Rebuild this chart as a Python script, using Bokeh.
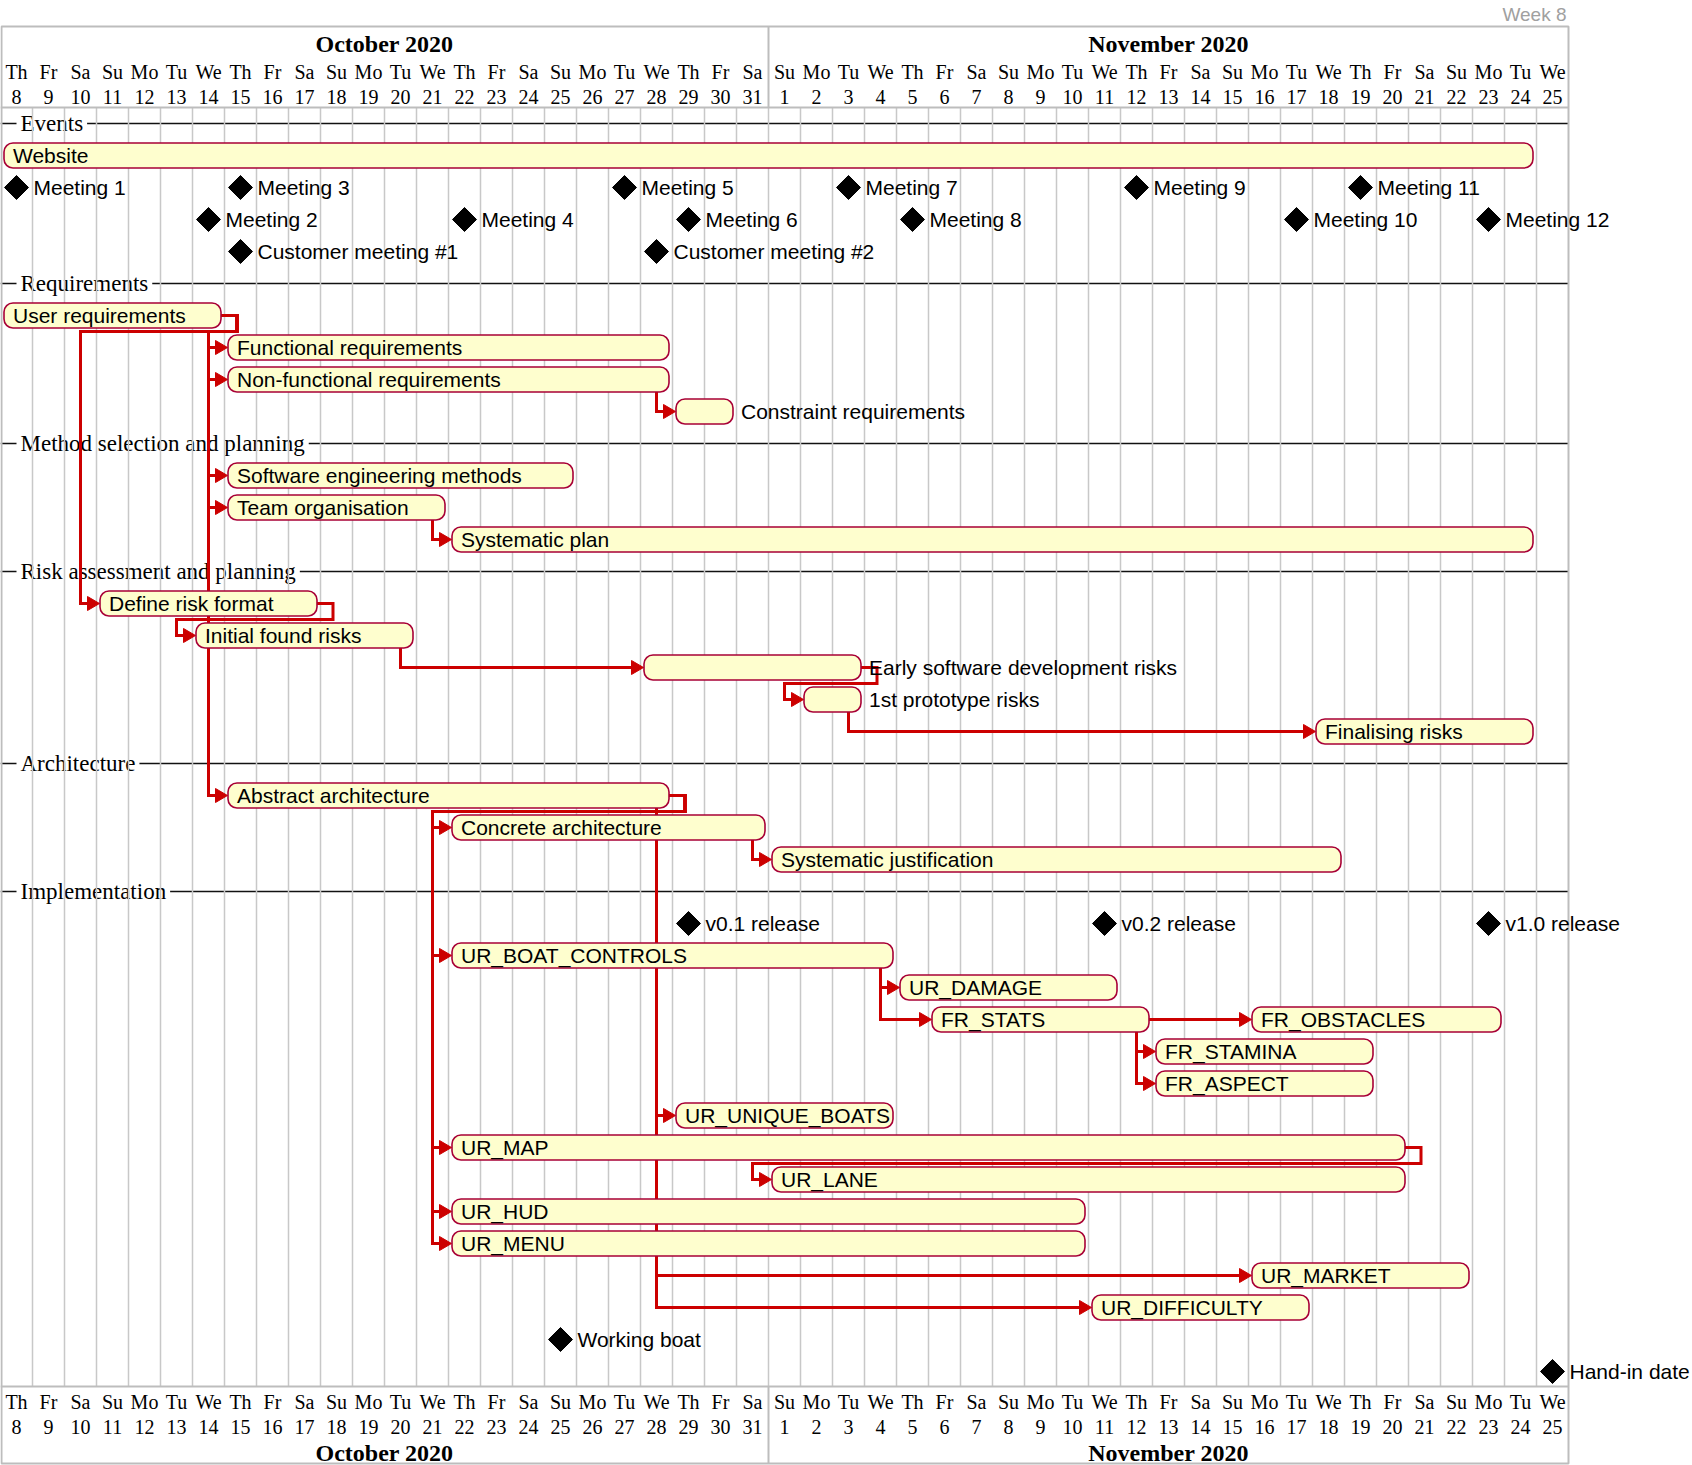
import datetime as dt
from bokeh.plotting import figure
from bokeh.models import Range1d
from bokeh.embed import file_html
from bokeh.resources import INLINE
from bokeh.core.properties import value

# ---------------- data ----------------
chart_first_day = "2020-10-08"
chart_last_day = "2020-11-25"
week_label = "Week 8"
month_labels = ["October 2020", "November 2020"]
day_abbr = ["Mo", "Tu", "We", "Th", "Fr", "Sa", "Su"]

section_names = ["Events", "Requirements", "Method selection and planning",
                 "Risk assessment and planning", "Architecture", "Implementation"]
section_rows = [0, 5, 10, 14, 20, 24]

task_names = ["Website", "User requirements", "Functional requirements", "Non-functional requirements",
              "Constraint requirements", "Software engineering methods", "Team organisation", "Systematic plan",
              "Define risk format", "Initial found risks", "Early software development risks", "1st prototype risks",
              "Finalising risks", "Abstract architecture", "Concrete architecture", "Systematic justification",
              "UR_BOAT_CONTROLS", "UR_DAMAGE", "FR_STATS", "FR_OBSTACLES", "FR_STAMINA", "FR_ASPECT",
              "UR_UNIQUE_BOATS", "UR_MAP", "UR_LANE", "UR_HUD", "UR_MENU", "UR_MARKET", "UR_DIFFICULTY"]
task_rows = [1, 6, 7, 8, 9, 11, 12, 13, 15, 16, 17, 18, 19, 21, 22, 23,
             26, 27, 28, 28, 29, 30, 31, 32, 33, 34, 35, 36, 37]
task_first_day = ["2020-10-08", "2020-10-08", "2020-10-15", "2020-10-15", "2020-10-29", "2020-10-15", "2020-10-15", "2020-10-22",
                  "2020-10-11", "2020-10-14", "2020-10-28", "2020-11-02", "2020-11-18", "2020-10-15", "2020-10-22", "2020-11-01",
                  "2020-10-22", "2020-11-05", "2020-11-06", "2020-11-16", "2020-11-13", "2020-11-13",
                  "2020-10-29", "2020-10-22", "2020-11-01", "2020-10-22", "2020-10-22", "2020-11-16", "2020-11-11"]
task_last_day = ["2020-11-24", "2020-10-14", "2020-10-28", "2020-10-28", "2020-10-30", "2020-10-25", "2020-10-21", "2020-11-24",
                 "2020-10-17", "2020-10-20", "2020-11-03", "2020-11-03", "2020-11-24", "2020-10-28", "2020-10-31", "2020-11-18",
                 "2020-11-04", "2020-11-11", "2020-11-12", "2020-11-23", "2020-11-19", "2020-11-19",
                 "2020-11-04", "2020-11-20", "2020-11-20", "2020-11-10", "2020-11-10", "2020-11-22", "2020-11-17"]
label_outside = ["Constraint requirements", "Early software development risks", "1st prototype risks"]

milestone_names = ["Meeting 1", "Meeting 3", "Meeting 5", "Meeting 7", "Meeting 9", "Meeting 11",
                   "Meeting 2", "Meeting 4", "Meeting 6", "Meeting 8", "Meeting 10", "Meeting 12",
                   "Customer meeting #1", "Customer meeting #2",
                   "v0.1 release", "v0.2 release", "v1.0 release", "Working boat", "Hand-in date"]
milestone_rows = [2, 2, 2, 2, 2, 2, 3, 3, 3, 3, 3, 3, 4, 4, 25, 25, 25, 38, 39]
milestone_dates = ["2020-10-08", "2020-10-15", "2020-10-27", "2020-11-03", "2020-11-12", "2020-11-19",
                   "2020-10-14", "2020-10-22", "2020-10-29", "2020-11-05", "2020-11-17", "2020-11-23",
                   "2020-10-15", "2020-10-28", "2020-10-29", "2020-11-11", "2020-11-23", "2020-10-25", "2020-11-25"]

dep_from = (["User requirements"] * 6 + ["Define risk format", "Early software development risks"]
            + ["Abstract architecture"] * 5 + ["UR_MAP"]
            + ["Non-functional requirements", "Team organisation", "Initial found risks",
               "1st prototype risks", "Concrete architecture"]
            + ["Abstract architecture"] * 3 + ["UR_BOAT_CONTROLS"] * 2 + ["FR_STATS"] * 3)
dep_to = ["Functional requirements", "Non-functional requirements", "Software engineering methods",
          "Team organisation", "Abstract architecture", "Define risk format",
          "Initial found risks", "1st prototype risks",
          "Concrete architecture", "UR_BOAT_CONTROLS", "UR_MAP", "UR_HUD", "UR_MENU",
          "UR_LANE",
          "Constraint requirements", "Systematic plan", "Early software development risks",
          "Finalising risks", "Systematic justification",
          "UR_UNIQUE_BOATS", "UR_MARKET", "UR_DIFFICULTY",
          "UR_DAMAGE", "FR_STATS",
          "FR_STAMINA", "FR_ASPECT", "FR_OBSTACLES"]
dep_route = ["hook"] * 14 + ["drop"] * 12 + ["same"]

# ---------------- layout helpers ----------------
W, H = 1692, 1465
PX = 32.0          # pixels per day and per row
ROW0 = 123.0       # pixel y of row 0
origin = dt.date.fromisoformat(chart_first_day)
n_days = (dt.date.fromisoformat(chart_last_day) - origin).days + 1


def day(s):
    return (dt.date.fromisoformat(s) - origin).days


def u(px):
    return px / PX


def Y(px):
    return (px - ROW0) / PX


SERIF = value("Liberation Serif")
SANS = value("Liberation Sans")
GRID = "#C8C8C8"
FRAME = "#BDBDBD"
RED = "#CC0000"
BAR_FILL = "#FEFECE"
BAR_LINE = "#A80036"

p = figure(width=W, height=H, output_backend="svg", toolbar_location=None,
           x_range=Range1d(0, W / PX), y_range=Range1d(Y(H), Y(0)),
           min_border=0, x_axis_location=None, y_axis_location=None)
p.grid.visible = False
p.outline_line_color = None
p.background_fill_color = "white"
p.border_fill_color = "white"

# separators (black lines + labels on white background)
p.segment(x0=[0] * len(section_rows), x1=[n_days] * len(section_rows),
          y0=section_rows, y1=section_rows, line_color="#111111", line_width=1.6)
p.text(x=[u(16)] * len(section_rows), y=section_rows, text=section_names,
       text_font=SERIF, text_font_size="23px", text_baseline="middle", text_align="left",
       text_color="black", background_fill_color="white", padding=4)

# body grid lines
ks = list(range(1, n_days))
p.segment(x0=ks, x1=ks, y0=[Y(107)] * len(ks), y1=[Y(1386)] * len(ks),
          line_color=GRID, line_width=1.5)

# header / footer frame
p.quad(left=[u(1)], right=[n_days], top=[Y(26)], bottom=[Y(1463)],
       fill_color=None, line_color=FRAME, line_width=2)
p.segment(x0=[0, 0], x1=[n_days, n_days], y0=[Y(107), Y(1386)], y1=[Y(107), Y(1386)],
          line_color=FRAME, line_width=2)
nov1 = day("2020-11-01")
p.segment(x0=[nov1, nov1], x1=[nov1, nov1], y0=[Y(26), Y(1386)], y1=[Y(107), Y(1463)],
          line_color=FRAME, line_width=2)

days = [origin + dt.timedelta(days=i) for i in range(n_days)]
dx = [i + 0.5 for i in range(n_days)]
dnames = [day_abbr[d.weekday()] for d in days]
dnums = [str(d.day) for d in days]
for yname, ynum in [(Y(71.5), Y(96)), (Y(1401.5), Y(1426))]:
    p.text(x=dx, y=[yname] * n_days, text=dnames, text_font=SERIF, text_font_size="20px",
           text_align="center", text_baseline="middle", text_color="black")
    p.text(x=dx, y=[ynum] * n_days, text=dnums, text_font=SERIF, text_font_size="20px",
           text_align="center", text_baseline="middle", text_color="black")
mx = [nov1 / 2, (nov1 + n_days) / 2]
for ym in [Y(43), Y(1452)]:
    p.text(x=mx, y=[ym, ym], text=month_labels, text_font=SERIF, text_font_size="24px",
           text_font_style="bold", text_align="center", text_baseline="middle", text_color="black")

p.text(x=[u(1566)], y=[Y(14)], text=[week_label], text_font=SANS, text_font_size="19px",
       text_align="right", text_baseline="middle", text_color="#A0A0A0")

# task geometry
t_start = {n: day(s) for n, s in zip(task_names, task_first_day)}
t_end = {n: day(e) + 1 for n, e in zip(task_names, task_last_day)}
t_row = dict(zip(task_names, task_rows))

# dependency arrows
lx, ly, hx, hy = [], [], [], []
for a, b, kind in zip(dep_from, dep_to, dep_route):
    E, S, yp, ys = t_end[a], t_start[b], t_row[a], t_row[b]
    tip = S + u(3)
    base = tip - u(12)
    if kind == "hook":
        xs = [E - u(3.5), E + u(12.5), E + u(12.5), S - u(16), S - u(16), base]
        yy = [yp, yp, yp + u(16), yp + u(16), ys, ys]
    elif kind == "drop":
        xs = [E - u(16), E - u(16), base]
        yy = [yp + u(12.5), ys, ys]
    else:
        xs = [E - u(3.5), base]
        yy = [yp, yp]
    lx.append(xs)
    ly.append(yy)
    hx.append([tip, base, base])
    hy.append([ys, ys - u(7), ys + u(7)])
p.multi_line(xs=lx, ys=ly, line_color=RED, line_width=3, line_join="miter")
p.patches(xs=hx, ys=hy, fill_color=RED, line_color=RED, line_width=1)

# bars
p.quad(left=[t_start[n] + u(3.5) for n in task_names],
       right=[t_end[n] - u(3.5) for n in task_names],
       top=[r - u(12.5) for r in task_rows], bottom=[r + u(12.5) for r in task_rows],
       fill_color=BAR_FILL, line_color=BAR_LINE, line_width=1.6, border_radius=9)

in_names = [n for n in task_names if n not in label_outside]
p.text(x=[t_start[n] + u(12.5) for n in in_names], y=[t_row[n] for n in in_names], text=in_names,
       text_font=SANS, text_font_size="21px", text_baseline="middle", text_align="left",
       text_color="black")
p.text(x=[t_end[n] + u(4.5) for n in label_outside], y=[t_row[n] for n in label_outside],
       text=label_outside, text_font=SANS, text_font_size="21px", text_baseline="middle",
       text_align="left", text_color="black")

# milestones
m_day = [day(d) for d in milestone_dates]
p.scatter(x=[d + 0.5 for d in m_day], y=milestone_rows, marker="square", size=17,
          angle=0.785398, fill_color="black", line_color="black")
p.text(x=[d + 1 + u(1) for d in m_day], y=milestone_rows, text=milestone_names,
       text_font=SANS, text_font_size="21px", text_baseline="middle", text_align="left",
       text_color="black")

open("out.html", "w").write(file_html(p, INLINE))
